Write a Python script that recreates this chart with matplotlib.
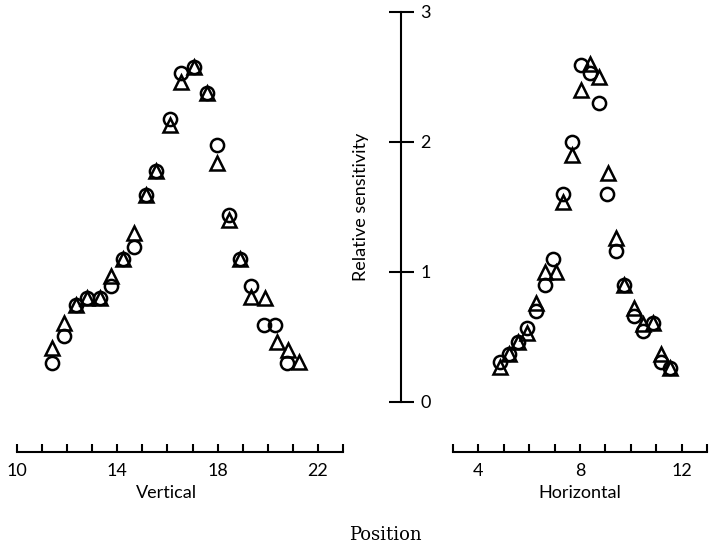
import matplotlib
matplotlib.use("Agg")
import matplotlib.pyplot as plt

plt.rcParams['font.family'] = ['Lato', 'DejaVu Sans']

# vertical position scan
vert_circ_x = [11.41, 11.89, 12.35, 12.81, 13.29, 13.75, 14.21, 14.68, 15.15, 15.56, 16.12,
               16.55, 17.05, 17.59, 17.99, 18.45, 18.89, 19.32, 19.85, 20.29, 20.76]
vert_circ_y = [0.30, 0.51, 0.75, 0.80, 0.80, 0.89, 1.10, 1.19, 1.59, 1.78, 2.18,
               2.53, 2.58, 2.38, 1.98, 1.44, 1.10, 0.89, 0.59, 0.59, 0.30]
vert_tri_x = [11.41, 11.89, 12.35, 12.81, 13.29, 13.75, 14.21, 14.68, 15.15, 15.56, 16.12,
              16.55, 17.05, 17.59, 17.99, 18.45, 18.89, 19.32, 19.89, 20.35, 20.79, 21.25]
vert_tri_y = [0.415, 0.61, 0.75, 0.80, 0.80, 0.97, 1.10, 1.30, 1.59, 1.78, 2.13,
              2.46, 2.58, 2.38, 1.84, 1.40, 1.10, 0.81, 0.80, 0.46, 0.40, 0.31]

# horizontal position scan
hor_circ_x = [4.85, 5.22, 5.55, 5.93, 6.26, 6.63, 6.95, 7.35, 7.67, 8.02,
              8.40, 8.74, 9.07, 9.42, 9.75, 10.12, 10.47, 10.86, 11.19, 11.55]
hor_circ_y = [0.31, 0.37, 0.46, 0.57, 0.70, 0.90, 1.10, 1.60, 2.00, 2.59,
              2.53, 2.30, 1.60, 1.16, 0.90, 0.66, 0.55, 0.61, 0.31, 0.26]
hor_tri_x = [4.85, 5.22, 5.55, 5.93, 6.26, 6.63, 7.06, 7.35, 7.67, 8.04,
             8.40, 8.76, 9.09, 9.42, 9.75, 10.12, 10.47, 10.86, 11.19, 11.55]
hor_tri_y = [0.27, 0.37, 0.46, 0.53, 0.76, 1.00, 1.00, 1.54, 1.90, 2.40,
             2.60, 2.50, 1.76, 1.26, 0.90, 0.72, 0.60, 0.61, 0.37, 0.26]

vert_ticklabels = [10, 14, 18, 22]
hor_ticklabels = [4, 8, 12]
sens_ticks = [0, 1, 2, 3]

fig = plt.figure(figsize=(7.12, 5.46), dpi=100)

y0 = 1 - 402 / 546
h = (402 - 12) / 546
ax1 = fig.add_axes([17 / 712, y0, 326 / 712, h])
ax2 = fig.add_axes([453 / 712, y0, 254 / 712, h])
ax3 = fig.add_axes([401 / 712, y0, 0.0001, h])

mk = dict(ms=9.5, mew=1.8, mfc='none', mec='black', ls='none', clip_on=False)


def style_x(ax, lo, hi, labels):
    ax.set_xlim(lo, hi)
    ax.set_ylim(0, 3)
    for s in ['top', 'right', 'left']:
        ax.spines[s].set_visible(False)
    ax.spines['bottom'].set_position(('outward', 36))
    ax.spines['bottom'].set_linewidth(1.5)
    ax.set_yticks([])
    ticks = list(range(lo, hi + 1))
    ax.set_xticks(ticks)
    ax.set_xticklabels([str(t) if t in labels else '' for t in ticks])
    ax.tick_params(axis='x', direction='in', length=6, width=1.5, pad=8, labelsize=13)
    ax.patch.set_visible(False)


ax1.plot(vert_circ_x, vert_circ_y, marker='o', **mk)
ax1.plot(vert_tri_x, vert_tri_y, marker='^', **mk)
style_x(ax1, 10, 23, vert_ticklabels)
ax1.set_xlabel('Vertical', fontsize=13)
ax1.xaxis.set_label_coords(0.46, -0.214)

ax2.plot(hor_circ_x, hor_circ_y, marker='o', **mk)
ax2.plot(hor_tri_x, hor_tri_y, marker='^', **mk)
style_x(ax2, 3, 13, hor_ticklabels)
ax2.set_xlabel('Horizontal', fontsize=13)
ax2.xaxis.set_label_coords(0.5, -0.214)

# central sensitivity axis
ax3.set_ylim(0, 3)
ax3.set_xticks([])
for s in ['top', 'right', 'bottom']:
    ax3.spines[s].set_visible(False)
ax3.spines['left'].set_linewidth(1.5)
ax3.set_yticks(sens_ticks)
ax3.tick_params(axis='y', direction='inout', length=18, width=1.5, pad=5,
                labelleft=False, labelright=True, labelsize=13)
ax3.set_ylabel('Relative sensitivity', fontsize=13, labelpad=14)
ax3.patch.set_visible(False)

fig.text(385 / 712, 1 - 535 / 546, 'Position', family='DejaVu Serif',
         fontsize=13, ha='center', va='center')

fig.savefig('out.png', dpi=100)
